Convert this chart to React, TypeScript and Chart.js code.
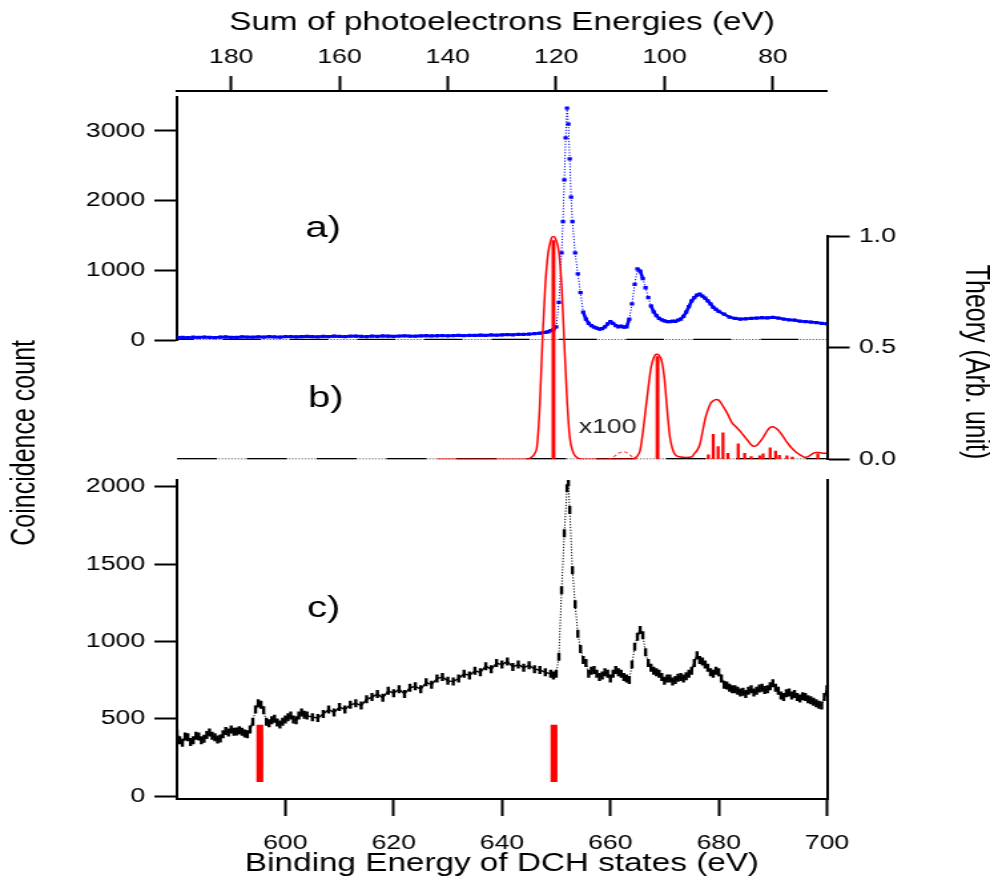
import React, { useEffect, useRef } from 'react';
import { Chart, registerables } from 'chart.js';

Chart.register(...registerables);

// ---------- canvas geometry (the figure is horizontally stretched) ----------
const W = 744;
const H = 881;
const SX = 990 / W;
const FONT = '"Liberation Sans", Arial, Helvetica, sans-serif';

// ---------- tick labels ----------
const bindingTicks = [600, 620, 640, 660, 680, 700];
const sumTicks = [80, 100, 120, 140, 160, 180];
const countTicksA = [0, 1000, 2000, 3000];
const countTicksC = [0, 500, 1000, 1500, 2000];
const theoryTicks = [0, 0.5, 1.0];

// ---------- a) measured spectrum (binding energy eV, counts) ----------
const spectrumA: [number, number][] = [
  [580,35],[581,38],[582,33],[583,40],[584,36],[585,42],[586,38],[587,35],[588,41],[589,44],
  [590,39],[591,37],[592,45],[593,42],[594,40],[595,46],[596,43],[597,48],[598,44],[599,41],
  [600,47],[601,50],[602,45],[603,49],[604,52],[605,48],[606,46],[607,53],[608,50],[609,55],
  [610,51],[611,49],[612,54],[613,57],[614,52],[615,50],[616,56],[617,53],[618,58],[619,55],
  [620,52],[621,57],[622,60],[623,56],[624,54],[625,59],[626,62],[627,58],[628,61],[629,64],
  [630,60],[631,63],[632,66],[633,62],[634,68],[635,65],[636,70],[637,67],[638,72],[639,69],
  [640,74],[641,78],[642,75],[643,82],[644,80],[645,86],[646,90],[647,97],[648,110],[648.5,118],
  [649,135],[649.5,150],[650,190],[650.5,540],[651,1250],[651.25,1700],[651.5,2300],[651.75,2900],
  [652,3330],[652.25,3100],[652.5,2600],[652.75,2050],[653,1700],[653.5,1250],[654,950],[654.5,680],
  [655,400],[655.5,300],[656,240],[656.5,205],[657,185],[657.5,170],[658,155],[658.5,165],[659,190],
  [659.5,230],[660,262],[660.5,240],[661,205],[661.5,190],[662,200],[662.5,185],[663,190],[663.5,300],
  [664,520],[664.5,800],[665,1020],[665.5,990],[666,880],[666.5,750],[667,610],[667.5,490],[668,405],
  [668.5,350],[669,310],[669.5,290],[670,275],[670.5,265],[671,262],[671.5,270],[672,268],[672.5,285],
  [673,300],[673.5,340],[674,400],[674.5,480],[675,560],[675.5,610],[676,645],[676.5,660],[677,630],
  [677.5,600],[678,560],[678.5,520],[679,470],[679.5,440],[680,410],[681,370],[682,330],[683,310],
  [684,300],[685,305],[686,310],[687,315],[688,320],[689,318],[690,325],[691,315],[692,300],[693,290],
  [694,285],[695,270],[696,265],[697,258],[698,250],[699,240],[700,230]
];

// ---------- b) theory (arb. unit) ----------
const theoryCurve: [number, number][] = [
  [628,0],[640,0],[644,0],[645,0.003],[645.5,0.01],[646,0.025],[646.5,0.065],[647,0.25],[647.5,0.55],
  [648,0.78],[648.5,0.92],[649,0.98],[649.5,1.0],[650,0.98],[650.5,0.93],[651,0.78],[651.5,0.52],
  [652,0.27],[652.5,0.1],[653,0.04],[653.5,0.015],[654,0.005],[655,0],[664,0],[664.5,0.005],
  [665,0.015],[665.5,0.04],[666,0.12],[666.5,0.22],[667,0.32],[667.5,0.41],[668,0.455],[668.5,0.47],
  [669,0.465],[669.5,0.44],[670,0.36],[670.5,0.22],[671,0.1],[671.5,0.045],[672,0.02],[673,0.01],
  [674,0.008],[675,0.01],[675.5,0.025],[676,0.04],[676.5,0.065],[677,0.12],[677.5,0.18],[678,0.22],
  [678.5,0.25],[679,0.262],[679.5,0.268],[680,0.265],[680.5,0.25],[681,0.23],[681.5,0.21],[682,0.185],
  [682.5,0.162],[683,0.15],[683.5,0.138],[684,0.125],[684.5,0.11],[685,0.095],[685.5,0.08],[686,0.065],
  [686.5,0.058],[687,0.062],[687.5,0.075],[688,0.09],[688.5,0.11],[689,0.13],[689.5,0.143],[690,0.146],
  [690.5,0.14],[691,0.13],[691.5,0.115],[692,0.098],[692.5,0.08],[693,0.064],[693.5,0.05],[694,0.038],
  [694.5,0.028],[695,0.02],[695.5,0.013],[696,0.009],[696.5,0.012],[697,0.02],[697.5,0.028],[698,0.031],
  [698.5,0.03],[699,0.028],[699.5,0.027],[700,0.027]
];
const theoryX100: [number, number][] = [
  [659.5,0],[660,0.003],[660.5,0.01],[661,0.018],[661.5,0.027],[662,0.032],[662.5,0.034],
  [663,0.03],[663.5,0.022],[664,0.012],[664.5,0.005],[665,0.002]
];
const mainSticks: [number, number][] = [[649.5,0.98],[668.7,0.46]];
const smallSticks: [number, number][] = [
  [678.1,0.02],[679.0,0.112],[679.9,0.057],[680.8,0.119],[681.7,0.027],[683.6,0.069],[684.8,0.027],
  [686.0,0.012],[687.6,0.015],[688.2,0.024],[689.5,0.051],[690.5,0.037],[691.2,0.018],[692.6,0.015],
  [693.6,0.01],[698.3,0.025]
];
const zeroLine: [number, number][] = [[580,0],[700,0]];

// ---------- c) measured spectrum ----------
const spectrumC: [number, number][] = [
  [580,405],[580.5,360],[581,345],[581.5,385],[582,380],[582.5,350],[583,360],[583.5,390],[584,385],
  [584.5,360],[585,370],[585.5,395],[586,410],[586.5,390],[587,380],[587.5,365],[588,372],[588.5,400],
  [589,420],[589.5,410],[590,430],[590.5,415],[591,418],[591.5,425],[592,415],[592.5,405],[593,400],
  [593.5,430],[594,480],[594.5,560],[595,600],[595.5,590],[596,555],[596.5,480],[597,470],[597.5,490],
  [598,500],[598.5,475],[599,462],[599.5,480],[600,495],[600.5,510],[601,520],[601.5,495],[602,490],
  [602.5,520],[603,540],[603.5,525],[604,520],[605,510],[606,505],[607,530],[608,560],[609,540],
  [610,575],[611,560],[612,590],[613,600],[614,585],[615,625],[616,640],[617,660],[618,635],[619,680],
  [620,665],[621,690],[622,660],[623,700],[624,710],[625,690],[626,735],[627,720],[628,760],[629,770],
  [630,745],[631,740],[632,760],[633,790],[634,780],[635,810],[636,800],[637,840],[638,820],[639,860],
  [640,850],[641,870],[642,835],[643,850],[644,830],[645,845],[646,820],[647,815],[648,800],[649,790],
  [649.5,780],[650,790],[650.5,900],[651,1330],[651.5,1700],[652,1990],[652.25,2030],[652.5,1850],
  [653,1460],[653.5,1240],[654,1050],[654.5,950],[655,880],[655.5,860],[656,790],[656.5,810],[657,815],
  [657.5,790],[658,770],[658.5,780],[659,800],[659.5,790],[660,760],[660.5,790],[661,815],[661.5,800],
  [662,790],[662.5,770],[663,760],[663.5,750],[664,850],[664.5,966],[665,1030],[665.5,1074],[666,1040],
  [666.5,930],[667,860],[667.5,830],[668,810],[668.5,800],[669,790],[669.5,770],[670,745],[670.5,760],
  [671,760],[671.5,740],[672,750],[672.5,765],[673,770],[673.5,760],[674,775],[674.5,790],[675,810],
  [675.5,860],[676,910],[676.5,880],[677,870],[677.5,850],[678,830],[678.5,800],[679,790],[679.5,810],
  [680,800],[680.5,760],[681,720],[681.5,715],[682,700],[682.5,690],[683,690],[683.5,680],[684,670],
  [684.5,675],[685,660],[685.5,680],[686,690],[686.5,670],[687,680],[687.5,695],[688,700],[688.5,685],
  [689,690],[689.5,710],[690,730],[690.5,700],[691,680],[691.5,650],[692,640],[692.5,665],[693,670],
  [693.5,650],[694,660],[694.5,640],[695,630],[695.5,645],[696,640],[696.5,625],[697,620],[697.5,610],
  [698,600],[698.5,590],[699,585],[699.5,640],[700,690]
];
const dchMarkBE = [595.3, 649.6];
const dchMarkRange: [number, number] = [92, 459];

// ---------- helpers ----------
const pts = (a: [number, number][]) => a.map(([x, y]) => ({ x, y }));

const hiddenY = (pos: string, stack: string, weight: number, stackWeight: number, width: number, extra: any = {}) => ({
  type: 'linear', axis: 'y', position: pos, stack, weight, stackWeight,
  afterFit: (s: any) => { s.width = width; },
  border: { display: false }, grid: { display: false }, ticks: { display: false },
  ...extra,
});

const visibleY = (pos: string, stack: string, weight: number, stackWeight: number, width: number,
  min: number, max: number, ticks: number[], fmt: (v: number) => string, extra: any = {}) => ({
  type: 'linear', axis: 'y', position: pos, stack, weight, stackWeight, min, max,
  afterFit: (s: any) => { s.width = width; },
  afterBuildTicks: (s: any) => { s.ticks = ticks.map((v) => ({ value: v })); },
  border: { display: true, color: '#000', width: 2 },
  grid: { display: true, drawOnChartArea: false, drawTicks: true, tickLength: 17, tickWidth: 2, tickColor: '#000' },
  ticks: { display: true, color: '#000', font: { size: 20, family: FONT }, padding: 7, autoSkip: false,
    callback: (v: any) => fmt(Number(v)) },
  ...extra,
});

const steep = (ctx: any) => Math.abs(ctx.p1.y - ctx.p0.y) > 8;

const panelTextPlugin = {
  id: 'panelText',
  afterDatasetsDraw(chart: any, _args: any, opts: any) {
    const ctx = chart.ctx;
    ctx.save();
    for (const t of opts.items || []) {
      const xs = chart.scales[t.xAxis];
      const ys = chart.scales[t.yAxis];
      ctx.font = `${t.size}px ${FONT}`;
      ctx.fillStyle = t.color || '#000';
      ctx.textAlign = 'center';
      ctx.textBaseline = 'alphabetic';
      ctx.fillText(t.text, xs.getPixelForValue(t.x), ys.getPixelForValue(t.y));
    }
    ctx.restore();
  },
};

export default function App() {
  const ref = useRef<HTMLCanvasElement | null>(null);

  useEffect(() => {
    if (!ref.current) return;
    Chart.defaults.font.family = FONT;
    Chart.defaults.color = '#000';

    const chart = new Chart(ref.current, {
      type: 'line',
      data: {
        datasets: [
          {
            type: 'bar', label: 'DCH states', xAxisID: 'x', yAxisID: 'yC', order: 0,
            data: dchMarkBE.map((x) => ({ x, y: dchMarkRange })) as any,
            backgroundColor: '#ff0000', borderWidth: 0, barThickness: 4.5, grouped: false,
          },
          {
            type: 'line', label: 'c', xAxisID: 'x', yAxisID: 'yC', order: 1,
            data: pts(spectrumC),
            borderColor: '#000', borderWidth: 1.4,
            pointStyle: 'line', pointRotation: 90, pointRadius: 4, pointBorderWidth: 2.4,
            pointBorderColor: '#000', pointBackgroundColor: '#000',
            segment: {
              borderDash: (c: any) => (steep(c) ? [1.2, 1.6] : undefined),
              borderWidth: (c: any) => (steep(c) ? 1 : undefined),
            },
          },
          {
            type: 'bar', label: 'main sticks', xAxisID: 'x', yAxisID: 'yT', order: 2,
            data: pts(mainSticks), backgroundColor: '#ff0000', borderWidth: 0, barThickness: 2.2, grouped: false,
          },
          {
            type: 'bar', label: 'small sticks', xAxisID: 'x', yAxisID: 'yT', order: 2,
            data: pts(smallSticks), backgroundColor: '#ff0000', borderWidth: 0, barThickness: 1.6, grouped: false,
          },
          {
            type: 'line', label: 'theory', xAxisID: 'x', yAxisID: 'yT', order: 3,
            data: pts(theoryCurve), borderColor: '#ff0000', borderWidth: 1.5, pointRadius: 0,
            cubicInterpolationMode: 'monotone',
          },
          {
            type: 'line', label: 'x100', xAxisID: 'x', yAxisID: 'yT', order: 3,
            data: pts(theoryX100), borderColor: '#ff4040', borderWidth: 1.1, pointRadius: 0,
            borderDash: [3, 2], cubicInterpolationMode: 'monotone',
          },
          {
            type: 'line', label: 'a', xAxisID: 'x', yAxisID: 'yA', order: 4,
            data: pts(spectrumA), borderColor: '#0000ff', borderWidth: 2.6,
            pointStyle: 'rect', pointRadius: 2.3, pointBorderWidth: 0, pointBackgroundColor: '#0000ff',
            segment: {
              borderDash: (c: any) => (steep(c) ? [1.2, 1.6] : undefined),
              borderWidth: (c: any) => (steep(c) ? 1 : undefined),
            },
          },
          {
            type: 'line', label: 'zero a', xAxisID: 'x', yAxisID: 'yA', order: 6,
            data: pts(zeroLine), borderColor: '#000', borderWidth: 2.6, pointRadius: 0,
            borderDash: [28.5, 22], borderDashOffset: 16,
          },
          {
            type: 'line', label: 'zero a dots', xAxisID: 'x', yAxisID: 'yA', order: 7,
            data: pts(zeroLine), borderColor: '#333', borderWidth: 1.5, pointRadius: 0, borderDash: [1.2, 1.2],
          },
          {
            type: 'line', label: 'zero b', xAxisID: 'x', yAxisID: 'yT', order: 6,
            data: pts(zeroLine), borderColor: '#000', borderWidth: 2.6, pointRadius: 0,
            borderDash: [30, 22.5], borderDashOffset: 0,
          },
          {
            type: 'line', label: 'zero b dots', xAxisID: 'x', yAxisID: 'yT', order: 7,
            data: pts(zeroLine), borderColor: '#333', borderWidth: 1.5, pointRadius: 0, borderDash: [1.2, 1.2],
          },
        ] as any,
      },
      plugins: [panelTextPlugin as any],
      options: {
        responsive: false,
        animation: false,
        devicePixelRatio: 1,
        events: [],
        layout: { padding: 0 },
        plugins: {
          legend: { display: false },
          tooltip: { enabled: false },
          panelText: {
            items: [
              { text: 'a)', x: 607.0, y: 1474, xAxis: 'x', yAxis: 'yA', size: 30 },
              { text: 'b)', x: 607.5, y: 0.233, xAxis: 'x', yAxis: 'yT', size: 30 },
              { text: 'c)', x: 607.1, y: 1160, xAxis: 'x', yAxis: 'yC', size: 30 },
              { text: 'x100', x: 659.5, y: 0.119, xAxis: 'x', yAxis: 'yT', size: 20, color: '#222' },
            ],
          },
        } as any,
        scales: {
          x: {
            type: 'linear', axis: 'x', position: 'bottom', min: 580, max: 700, offset: false,
            afterFit: (s: any) => { s.height = 82; },
            afterBuildTicks: (s: any) => { s.ticks = bindingTicks.map((v) => ({ value: v })); },
            border: { display: true, color: '#000', width: 2 },
            grid: { display: true, drawOnChartArea: false, drawTicks: true, tickLength: 17, tickWidth: 2, tickColor: '#000', offset: false },
            ticks: { color: '#000', font: { size: 20, family: FONT }, padding: 15, maxRotation: 0, autoSkip: false,
              callback: (v: any) => String(v) },
            title: { display: true, text: 'Binding Energy of DCH states (eV)', color: '#000',
              font: { size: 25, family: FONT }, padding: { top: 0, bottom: 2 } },
          },
          x2: {
            type: 'linear', axis: 'x', position: 'top', min: 70, max: 190, reverse: true, offset: false,
            afterFit: (s: any) => { s.height = 91; },
            afterBuildTicks: (s: any) => { s.ticks = sumTicks.map((v) => ({ value: v })); },
            border: { display: true, color: '#000', width: 2 },
            grid: { display: true, drawOnChartArea: false, drawTicks: true, tickLength: 15, tickWidth: 2, tickColor: '#000' },
            ticks: { color: '#000', font: { size: 20, family: FONT }, padding: 7, maxRotation: 0, autoSkip: false,
              callback: (v: any) => String(v) },
            title: { display: true, text: 'Sum of photoelectrons Energies (eV)', color: '#000',
              font: { size: 25, family: FONT }, padding: { top: 8, bottom: 0 } },
          },
          // left stack (higher weight = higher up)
          yGapTop: hiddenY('left', 'L', 4, 6, 133),
          yA: visibleY('left', 'L', 3, 243, 133, 0, 3488, countTicksA, (v) => String(v)),
          yB: hiddenY('left', 'L', 2, 120, 133, {
            title: { display: true, text: 'Coincidence count', align: 'end', color: '#000',
              font: { size: 25, family: FONT }, padding: { top: 4.5, bottom: 0 } },
          }),
          yGapMid: hiddenY('left', 'L', 1, 20, 133),
          yC: visibleY('left', 'L', 0, 319, 133, -19.4, 2043.9, countTicksC, (v) => String(v)),
          // right stack (lower weight = higher up)
          yR1: hiddenY('right', 'R', 0, 145, 122.5),
          yT: visibleY('right', 'R', 1, 223.3, 122.5, 0, 1, theoryTicks, (v) => v.toFixed(1), {
            title: { display: true, text: 'Theory (Arb. unit)', align: 'start', color: '#000',
              font: { size: 25, family: FONT, lineHeight: 0.9 }, padding: { top: 0, bottom: 0 } },
          }),
          yR2: hiddenY('right', 'R', 2, 20.7, 122.5),
          yR3: hiddenY('right', 'R', 3, 319, 122.5, { border: { display: true, color: '#000', width: 2 } }),
        } as any,
      },
    });
    return () => chart.destroy();
  }, []);

  return (
    <div style={{ position: 'absolute', left: 0, top: 0, width: W, height: H,
      transform: `scaleX(${SX})`, transformOrigin: '0 0' }}>
      <canvas ref={ref} width={W} height={H} style={{ display: 'block' }} />
    </div>
  );
}
